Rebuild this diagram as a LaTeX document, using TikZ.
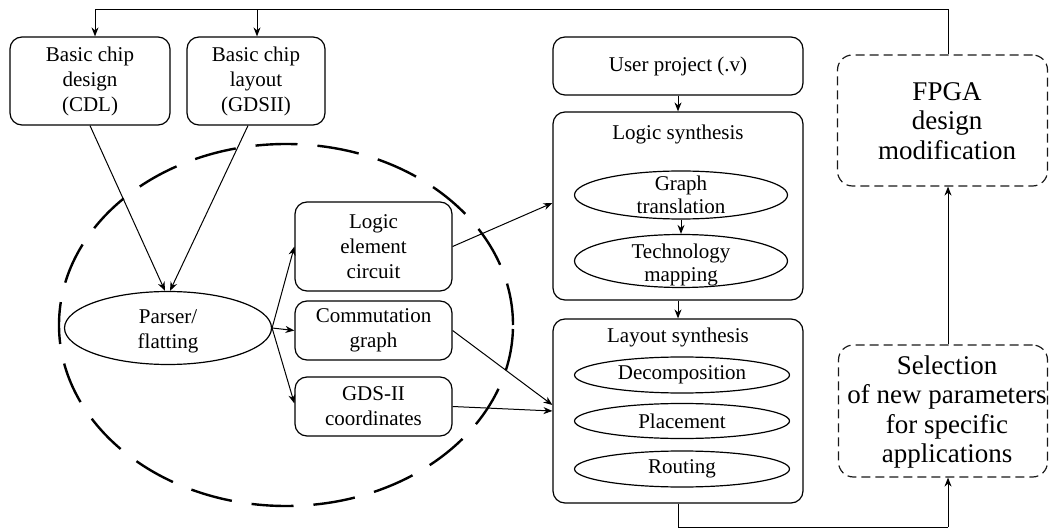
\documentclass[tikz,border=0pt]{standalone}
\usepackage{fontspec}
\setmainfont{Liberation Serif}
\usetikzlibrary{arrows.meta,shapes.geometric}
\begin{document}
\begin{tikzpicture}[x=1pt,y=-1pt,
  box/.style={draw,rounded corners=12pt,line width=1.2pt,align=center,font=\fontsize{21}{25}\selectfont,inner sep=0pt},
  ell/.style={draw,ellipse,line width=1.2pt,inner sep=0pt},
  txt/.style={align=center,font=\fontsize{21}{25}\selectfont,inner sep=0pt},
  etxt/.style={align=center,font=\fontsize{21}{23}\selectfont,inner sep=0pt},
  bigtxt/.style={align=center,font=\fontsize{27}{29.5}\selectfont,inner sep=0pt},
  dbox/.style={draw=black!90,dash pattern=on 9pt off 5pt,rounded corners=15pt,line width=1.2pt,inner sep=0pt},
  arr/.style={-{Stealth[length=9pt,width=7pt]},line width=1pt},
  line/.style={line width=1pt},
]
\useasboundingbox (0,0) rectangle (1049,529);
% dashed enclosure
\node[draw,ellipse,line width=2.4pt,dash pattern=on 42pt off 20pt,minimum width=454pt,minimum height=362pt,inner sep=0pt] (encl) at (286,325) {};
% left column
\node[box,minimum width=160pt,minimum height=88pt] (cdl) at (90,81) {Basic chip\\design\\(CDL)};
\node[box,minimum width=138pt,minimum height=88pt] (gds) at (256,81) {Basic chip\\layout\\(GDSII)};
\node[ell,minimum width=207pt,minimum height=73pt] (parser) at (168,328) {};
\node[txt] (parsert) at (168,331) {Parser/\\flatting};
\node[box,minimum width=157pt,minimum height=89pt] (le) at (373.5,246.5) {Logic\\element\\circuit};
\node[box,minimum width=157pt,minimum height=59pt] (com) at (373.5,330.5) {Commutation\\graph};
\node[box,minimum width=157pt,minimum height=59pt] (gdsc) at (373.5,406.5) {GDS-II\\coordinates};
% middle column
\node[box,minimum width=250pt,minimum height=58pt] (user) at (678,66) {User project (.v)};
\node[box,minimum width=250pt,minimum height=188pt] (ls) at (678,206) {};
\node[txt] (lst) at (678,134) {Logic synthesis};
\node[ell,minimum width=213pt,minimum height=48pt] (gt) at (681,195) {};
\node[etxt] (gtt) at (681,195) {Graph\\translation};
\node[ell,minimum width=213pt,minimum height=53pt] (tm) at (681,261) {};
\node[etxt] (tmt) at (681,265) {Technology\\mapping};
\node[box,minimum width=250pt,minimum height=184pt] (lay) at (678,411) {};
\node[txt] (layt) at (678,337) {Layout synthesis};
\node[ell,minimum width=215pt,minimum height=36pt] (dec) at (682,375) {};
\node[txt] (dect) at (682,375) {Decomposition};
\node[ell,minimum width=215pt,minimum height=35pt] (pla) at (682,421) {};
\node[txt] (plat) at (682,421) {Placement};
\node[ell,minimum width=215pt,minimum height=36pt] (rou) at (682,469) {};
\node[txt] (rout) at (682,469) {Routing};
% right column
\node[dbox,minimum width=210pt,minimum height=131pt] (fpga) at (942.5,120.5) {};
\node[bigtxt] (fpgat) at (947,121) {FPGA\\design\\modification};
\node[dbox,minimum width=209pt,minimum height=132pt] (sel) at (943,411) {};
\node[bigtxt] (selt) at (947,412) {Selection\\of new parameters\\for specific\\applications};
% coordinates
\coordinate (tl) at (95,10);
\coordinate (tm2) at (257,10);
\coordinate (tr) at (948,10);
\coordinate (bl) at (678,527);
\coordinate (br) at (948,527);
% connectors
\draw[arr] (cdl.south) -- ([xshift=-3pt]parser.north);
\draw[arr] ([xshift=-8pt]gds.south) -- ([xshift=2pt]parser.north);
\draw[arr] (parser.east) -- (le.west);
\draw[arr] (parser.east) -- (com.west);
\draw[arr] (parser.east) -- ([yshift=3pt]gdsc.west);
\draw[arr] (le.east) -- ([yshift=3pt]ls.west);
\draw[arr] (com.east) -- ([yshift=6pt]lay.west);
\draw[arr] (gdsc.east) -- (lay.west);
\draw[arr] (user.south) -- (ls.north);
\draw[arr] (gt.south) -- (tm.north);
\draw[arr] (ls.south) -- (lay.north);
\draw[line] (lay.south) -- (bl) -- (br);
\draw[arr] (br) -- (sel.south -| br);
\draw[arr] (sel.north -| br) -- (fpga.south -| br);
\draw[line] (fpga.north -| tr) -- (tr) -- (tl);
\draw[arr] (tl) -- (cdl.north -| tl);
\draw[arr] (tm2) -- (gds.north -| tm2);
\end{tikzpicture}
\end{document}
